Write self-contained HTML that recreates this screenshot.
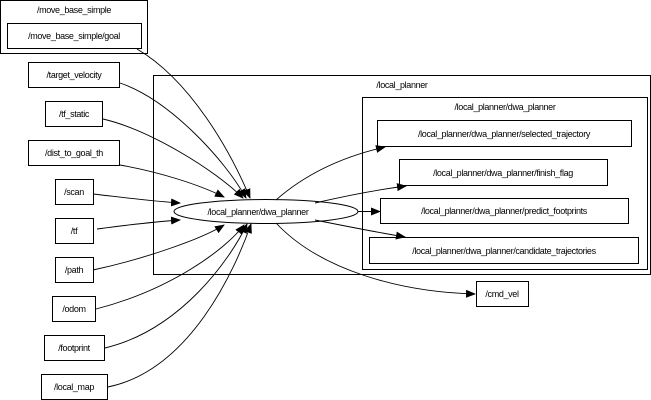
<!DOCTYPE html>
<html><head><style>
body{margin:0;background:#fff;}
svg{display:block;font-family:"Liberation Sans",sans-serif;}
text{font-size:9px;letter-spacing:-0.35px;text-anchor:middle;fill:#000;}
rect,ellipse{fill:none;stroke:#000;stroke-width:1;}
path{fill:none;stroke:#000;stroke-width:0.9;}
</style></head><body>
<svg width="651" height="400" viewBox="0 0 651 400">
<defs><marker id="a" markerWidth="10" markerHeight="8" refX="9" refY="4" orient="auto" markerUnits="userSpaceOnUse"><polygon points="0,0 10,4 0,8" fill="#000"/></marker></defs>
<rect x="0.5" y="0.5" width="147" height="53"/>
<text x="74" y="13">/move_base_simple</text>
<rect x="7.5" y="23.5" width="134" height="25"/><text x="74" y="39">/move_base_simple/goal</text>
<rect x="153.5" y="75.5" width="497" height="199"/><text x="402" y="88">/local_planner</text>
<rect x="362.5" y="97.5" width="285" height="172"/><text x="505" y="110">/local_planner/dwa_planner</text>
<rect x="377.5" y="120.5" width="254" height="26"/><text x="504" y="137">/local_planner/dwa_planner/selected_trajectory</text>
<rect x="399.5" y="159.5" width="208" height="26"/><text x="503" y="176">/local_planner/dwa_planner/finish_flag</text>
<rect x="380.5" y="198.5" width="248" height="25"/><text x="504" y="214">/local_planner/dwa_planner/predict_footprints</text>
<rect x="369.5" y="237.5" width="269" height="26"/><text x="504" y="254">/local_planner/dwa_planner/candidate_trajectories</text>
<rect x="476.5" y="281.5" width="52" height="25"/><text x="502" y="297">/cmd_vel</text>
<rect x="28.5" y="62.5" width="91" height="25"/><text x="74" y="78">/target_velocity</text>
<rect x="45.5" y="101.5" width="57" height="25"/><text x="74" y="117">/tf_static</text>
<rect x="28.5" y="140.5" width="91" height="25"/><text x="74" y="156">/dist_to_goal_th</text>
<rect x="55.5" y="179.5" width="38" height="25"/><text x="74" y="195">/scan</text>
<rect x="55.5" y="218.5" width="38" height="25"/><text x="74" y="234">/tf</text>
<rect x="55.5" y="257.5" width="38" height="25"/><text x="74" y="273">/path</text>
<rect x="52.5" y="296.5" width="43" height="25"/><text x="74" y="312">/odom</text>
<rect x="44.5" y="335.5" width="60" height="25"/><text x="74" y="351">/footprint</text>
<rect x="41.5" y="374.5" width="66" height="25"/><text x="74" y="390">/local_map</text>
<ellipse cx="266" cy="211.5" rx="92" ry="12"/><text x="258" y="215">/local_planner/dwa_planner</text>
<g marker-end="url(#a)">
<path d="M137,49 C190,80 230,150 250,198"/>
<path d="M120,83 C170,100 225,160 246,198"/>
<path d="M103,119 C150,130 215,170 243,198"/>
<path d="M120,165 C160,172 200,185 224,197"/>
<path d="M93,194 C120,197 150,201 180,203"/>
<path d="M97,229 C120,226 150,222 180,220"/>
<path d="M93,270 C140,260 200,240 224,225"/>
<path d="M96,309 C170,290 225,250 244,225"/>
<path d="M105,348 C180,330 230,260 247,224"/>
<path d="M108,387 C190,370 235,270 251,224"/>
<path d="M276,200 C310,170 350,155 385,147"/>
<path d="M315,203 C345,196 375,190 406,186"/>
<path d="M358,211.5 L380,211.5"/>
<path d="M315,220 C345,226 375,232 405,237"/>
<path d="M276,223 C320,270 400,292 475,294"/>
</g>
</svg>
</body></html>
